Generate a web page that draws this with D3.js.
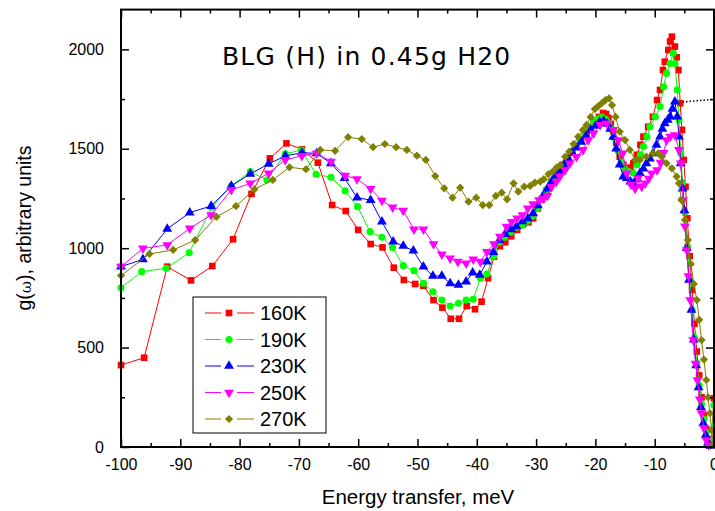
<html>
<head>
<script src="https://d3js.org/d3.v7.min.js"></script>
<style>
body { margin: 0; background: #fff; }
</style>
</head>
<body>
<svg id="main_vis" width="715" height="511" font-family="Liberation Sans, Arial, sans-serif"></svg>
<script>
// series values: [energy meV, g(w)]
var s160 = [[-100,412],[-96.1,449],[-92.2,907],[-88.2,838],[-84.6,910],[-81.1,1045],[-78.0,1273],[-74.9,1452],[-72.1,1527],[-69.5,1497],[-66.8,1430],[-64.4,1217],[-62.1,1187],[-60.0,1092],[-57.9,1021],[-55.9,1004],[-54.0,902],[-52.3,840],[-50.4,820],[-49.0,811],[-47.3,739],[-45.8,701],[-44.4,645],[-43.0,645],[-41.7,709],[-40.3,693],[-39.2,731],[-38.1,849],[-37.1,957],[-36.1,1010],[-35.2,1030],[-34.2,1060],[-33.2,1092],[-32.2,1120],[-31.3,1130],[-30.5,1150],[-29.7,1200],[-29.0,1245],[-28.2,1290],[-27.4,1335],[-26.7,1360],[-26.0,1380],[-25.3,1410],[-24.6,1444],[-23.9,1480],[-23.2,1511],[-22.4,1545],[-21.5,1578],[-20.8,1610],[-20.1,1636],[-19.4,1660],[-18.7,1680],[-18.2,1675],[-17.8,1655],[-17.4,1625],[-17.0,1590],[-16.5,1530],[-15.9,1460],[-15.3,1420],[-14.7,1400],[-14.1,1405],[-13.6,1427],[-13.0,1470],[-12.4,1520],[-11.9,1561],[-11.1,1611],[-10.3,1661],[-9.6,1745],[-9.1,1796],[-8.6,1896],[-8.3,1938],[-7.7,1997],[-7.4,2040],[-7.1,2064],[-6.6,2014],[-6.3,1960],[-6.0,1896],[-5.7,1729],[-5.4,1595],[-5.1,1444],[-4.8,1309],[-4.5,1150],[-4.1,960],[-3.7,790],[-3.3,620],[-2.9,480],[-2.5,360],[-2.1,250],[-1.7,160],[-1.3,90],[-0.9,40],[-0.5,15],[0,245]];
var s190 = [[-100,801],[-96.5,882],[-92.4,899],[-88.5,977],[-84.7,1206],[-81.4,1313],[-78.2,1385],[-75.4,1343],[-72.3,1474],[-69.6,1494],[-67.1,1372],[-64.6,1357],[-62.2,1288],[-60.1,1209],[-58.0,1083],[-56.0,1055],[-54.2,1003],[-52.4,912],[-50.6,887],[-49.0,823],[-47.4,781],[-45.9,739],[-44.5,709],[-43.1,723],[-41.8,739],[-40.6,743],[-39.4,849],[-38.3,870],[-37.2,960],[-36.2,1030],[-35.3,1055],[-34.3,1080],[-33.3,1105],[-32.4,1115],[-31.5,1135],[-30.6,1160],[-29.8,1200],[-29.0,1250],[-28.3,1295],[-27.5,1335],[-26.8,1365],[-26.1,1390],[-25.4,1420],[-24.7,1450],[-24.0,1485],[-23.3,1515],[-22.6,1545],[-21.8,1575],[-21.0,1605],[-20.3,1630],[-19.6,1650],[-18.9,1660],[-18.3,1650],[-17.8,1630],[-17.3,1600],[-16.8,1555],[-16.2,1490],[-15.6,1430],[-15.0,1395],[-14.4,1385],[-13.6,1377],[-13.0,1420],[-12.4,1470],[-11.9,1511],[-11.3,1560],[-10.8,1611],[-9.9,1661],[-9.1,1712],[-8.5,1812],[-8.0,1879],[-7.4,1929],[-6.9,1980],[-6.6,1929],[-6.2,1796],[-5.9,1645],[-5.6,1477],[-5.3,1330],[-4.9,1180],[-4.5,1010],[-4.1,850],[-3.7,690],[-3.3,550],[-2.9,420],[-2.5,310],[-2.1,215],[-1.7,140],[-1.3,75],[-0.9,30],[-0.5,10],[0,210]];
var s230 = [[-100,907],[-96.3,944],[-92.2,1097],[-88.4,1179],[-84.8,1212],[-81.4,1313],[-78.2,1373],[-75.1,1424],[-72.3,1464],[-69.5,1480],[-67.0,1477],[-64.6,1427],[-62.3,1352],[-60.2,1254],[-57.9,1242],[-56.0,1133],[-54.1,1033],[-52.4,1011],[-50.7,987],[-49.0,907],[-47.4,860],[-45.9,860],[-44.5,823],[-43.1,815],[-41.8,832],[-40.7,877],[-39.5,865],[-38.3,932],[-37.2,980],[-36.2,1040],[-35.2,1070],[-34.2,1095],[-33.3,1110],[-32.3,1135],[-31.4,1150],[-30.5,1175],[-29.7,1215],[-28.9,1260],[-28.1,1300],[-27.4,1335],[-26.7,1365],[-26.0,1390],[-25.3,1420],[-24.6,1450],[-23.9,1480],[-23.2,1505],[-22.4,1535],[-21.6,1565],[-20.8,1595],[-20.0,1615],[-19.3,1635],[-18.6,1640],[-18.0,1625],[-17.5,1600],[-17.0,1560],[-16.5,1500],[-15.9,1420],[-15.3,1360],[-14.7,1352],[-14.1,1335],[-13.6,1326],[-13.0,1350],[-12.5,1377],[-11.9,1400],[-11.4,1427],[-10.8,1450],[-10.3,1477],[-9.7,1520],[-9.1,1561],[-8.7,1600],[-8.3,1628],[-7.8,1645],[-7.4,1661],[-7.0,1700],[-6.6,1737],[-6.2,1661],[-5.9,1561],[-5.6,1427],[-5.3,1300],[-5.0,1190],[-4.6,1000],[-4.2,840],[-3.8,690],[-3.4,540],[-3.0,410],[-2.6,300],[-2.2,200],[-1.8,120],[-1.4,60],[-1.0,20],[-0.6,5]];
var s250 = [[-100,907],[-96.3,999],[-92.2,1016],[-88.4,1100],[-84.8,1167],[-81.4,1293],[-78.2,1326],[-75.1,1377],[-72.3,1444],[-69.5,1464],[-67.0,1477],[-64.6,1435],[-62.2,1365],[-60.2,1348],[-57.9,1298],[-56.0,1239],[-54.2,1206],[-52.4,1189],[-50.6,1095],[-49.0,1095],[-47.3,1021],[-45.9,969],[-44.5,949],[-43.2,932],[-41.8,924],[-40.6,944],[-39.4,932],[-38.3,982],[-37.1,1021],[-36.1,1058],[-35.0,1108],[-34.1,1133],[-33.2,1150],[-32.3,1167],[-31.4,1200],[-30.5,1222],[-29.5,1242],[-28.8,1251],[-28.1,1263],[-27.4,1309],[-26.6,1335],[-26.0,1360],[-25.1,1393],[-24.3,1427],[-23.2,1460],[-22.1,1494],[-21.2,1544],[-20.3,1578],[-19.2,1620],[-18.1,1628],[-17.0,1595],[-16.1,1544],[-15.4,1477],[-14.7,1377],[-14.0,1320],[-13.3,1300],[-12.8,1352],[-12.2,1310],[-11.6,1326],[-11.0,1350],[-10.5,1377],[-9.6,1393],[-9.0,1430],[-8.5,1480],[-8.0,1544],[-7.4,1561],[-6.6,1569],[-5.9,1494],[-5.6,1427],[-5.2,1242],[-4.9,1110],[-4.6,991],[-4.3,860],[-4.0,739],[-3.5,538],[-3.1,420],[-2.8,337],[-2.4,240],[-2.1,170],[-1.7,95],[-1.3,35],[-0.9,10]];
var s270 = [[-100,862],[-95.2,971],[-91.2,991],[-87.5,1041],[-83.9,1158],[-80.6,1212],[-77.5,1296],[-74.4,1343],[-71.6,1407],[-68.8,1397],[-66.4,1494],[-63.9,1490],[-61.7,1558],[-59.4,1549],[-57.5,1508],[-55.5,1524],[-53.6,1508],[-51.8,1494],[-50.1,1465],[-48.6,1444],[-47.0,1363],[-45.5,1301],[-44.1,1254],[-42.8,1304],[-41.4,1234],[-40.1,1254],[-39.0,1217],[-37.9,1217],[-36.8,1263],[-35.8,1279],[-34.9,1246],[-33.8,1326],[-33.0,1284],[-32.0,1309],[-31.0,1313],[-30.2,1330],[-29.3,1335],[-28.7,1347],[-27.9,1373],[-27.2,1385],[-26.5,1407],[-25.9,1419],[-25.1,1460],[-24.4,1486],[-23.7,1524],[-22.9,1561],[-22.1,1595],[-21.5,1620],[-20.8,1660],[-20.1,1700],[-19.5,1715],[-18.9,1730],[-18.3,1745],[-17.7,1754],[-17.2,1720],[-16.6,1660],[-15.9,1586],[-15.0,1544],[-14.2,1494],[-13.3,1444],[-12.5,1444],[-11.4,1460],[-10.3,1477],[-9.4,1477],[-8.8,1460],[-8.0,1427],[-7.1,1402],[-6.3,1360],[-5.9,1326],[-5.5,1242],[-4.9,1142],[-4.4,1041],[-3.9,920],[-3.4,820],[-2.9,739],[-2.5,640],[-2.1,538],[-1.7,440],[-1.3,337],[-1.0,250],[-0.7,170],[-0.4,85],[-0.1,10]];

var labels = ["160K", "190K", "230K", "250K", "270K"];
var colors = ["#ff0000", "#00ff00", "#0000ff", "#ff00ff", "#808000"];
var shapes = ["square", "circle", "up", "down", "diamond"];
var allSeries = [s160, s190, s230, s250, s270];

var xTicks = [-100, -90, -80, -70, -60, -50, -40, -30, -20, -10, 0];
var yTicks = [0, 500, 1000, 1500, 2000];

// dotted marker line at the right of the blue peak
var refLine = [[-5.3, 1735], [0.3, 1750]];

var svg = d3.select("#main_vis");

var x = d3.scaleLinear().domain([-100, 0]).range([121, 714]);
var y = d3.scaleLinear().domain([0, 2200]).range([447, 9.6]);

// symbol paths
function markerPath(kind) {
  if (kind == "square") return d3.symbol().type(d3.symbolSquare).size(44)();
  if (kind == "circle") return d3.symbol().type(d3.symbolCircle).size(40)();
  if (kind == "up" || kind == "down") return d3.symbol().type(d3.symbolTriangle).size(42)();
  return d3.symbol().type(d3.symbolSquare).size(34)();
}
function markerRot(kind) {
  if (kind == "down") return 180;
  if (kind == "diamond") return 45;
  return 0;
}

// series
allSeries.forEach(function(data, i) {
  svg.append("path")
    .datum(data)
    .attr("fill", "none")
    .attr("stroke", colors[i])
    .attr("stroke-width", 1)
    .attr("d", d3.line()
      .x(function(d) { return x(d[0]) })
      .y(function(d) { return y(d[1]) }));

  svg.append("g").selectAll("path")
    .data(data)
    .enter().append("path")
    .attr("d", markerPath(shapes[i]))
    .attr("fill", colors[i])
    .attr("transform", function(d) {
      return "translate(" + x(d[0]) + "," + y(d[1]) + ") rotate(" + markerRot(shapes[i]) + ")";
    });
});

// dotted line
svg.append("path")
  .datum(refLine)
  .attr("fill", "none")
  .attr("stroke", "black")
  .attr("stroke-width", 1.5)
  .attr("stroke-dasharray", "1.5,2")
  .attr("d", d3.line().x(function(d) { return x(d[0]) }).y(function(d) { return y(d[1]) }));

// axes, ticks pointing inward
var xMinor = d3.range(-95, 0, 10);
var yMinor = [250, 750, 1250, 1750];
var plain = function(d) { return String(d); };

function styleAxis(g) {
  g.selectAll(".domain").remove();
  g.selectAll("line").attr("stroke", "black").attr("stroke-width", 1.5);
  g.selectAll("text").attr("font-size", "16px").attr("fill", "black")
    .attr("font-family", "Liberation Sans, Arial, sans-serif");
}

svg.append("g").attr("transform", "translate(0,447)")
  .call(d3.axisBottom(x).tickValues(xTicks).tickSize(-8).tickPadding(12).tickFormat(plain))
  .call(styleAxis);
svg.append("g").attr("transform", "translate(0,447)")
  .call(d3.axisBottom(x).tickValues(xMinor).tickSize(-4).tickFormat(""))
  .call(styleAxis);
svg.append("g").attr("transform", "translate(0,9.6)")
  .call(d3.axisTop(x).tickValues(xTicks).tickSize(-8).tickFormat(""))
  .call(styleAxis);
svg.append("g").attr("transform", "translate(0,9.6)")
  .call(d3.axisTop(x).tickValues(xMinor).tickSize(-4).tickFormat(""))
  .call(styleAxis);

svg.append("g").attr("transform", "translate(121,0)")
  .call(d3.axisLeft(y).tickValues(yTicks).tickSize(-8).tickPadding(17).tickFormat(plain))
  .call(styleAxis);
svg.append("g").attr("transform", "translate(121,0)")
  .call(d3.axisLeft(y).tickValues(yMinor).tickSize(-4).tickFormat(""))
  .call(styleAxis);
svg.append("g").attr("transform", "translate(714,0)")
  .call(d3.axisRight(y).tickValues(yTicks).tickSize(-8).tickFormat(""))
  .call(styleAxis);
svg.append("g").attr("transform", "translate(714,0)")
  .call(d3.axisRight(y).tickValues(yMinor).tickSize(-4).tickFormat(""))
  .call(styleAxis);

// frame
svg.append("rect")
  .attr("x", x(-100)).attr("y", y(2200))
  .attr("width", x(0) - x(-100)).attr("height", y(0) - y(2200))
  .attr("fill", "none").attr("stroke", "black").attr("stroke-width", 2);

// title
svg.append("text")
  .attr("x", 222).attr("y", 65)
  .attr("font-size", "25px")
  .attr("letter-spacing", "1.2px")
  .attr("font-family", "DejaVu Sans, sans-serif")
  .text("BLG (H) in 0.45g H20");

// axis titles
svg.append("text")
  .attr("x", 418).attr("y", 504)
  .attr("text-anchor", "middle")
  .attr("font-size", "20.5px")
  .text("Energy transfer, meV");

var yl = svg.append("text")
  .attr("transform", "translate(31,228) rotate(-90)")
  .attr("text-anchor", "middle")
  .attr("font-size", "19.5px");
yl.append("tspan").text("g(");
yl.append("tspan").attr("font-family", "DejaVu Serif, serif").attr("font-size", "15px").text("ω");
yl.append("tspan").text("), arbitrary units");

// legend
var lg = svg.append("g");
lg.append("rect")
  .attr("x", 193).attr("y", 297).attr("width", 133).attr("height", 136)
  .attr("fill", "white").attr("stroke", "black").attr("stroke-width", 1);

labels.forEach(function(lab, i) {
  var ly = 313 + i * 26.5;
  lg.append("line").attr("x1", 205).attr("x2", 221).attr("y1", ly).attr("y2", ly)
    .attr("stroke", colors[i]).attr("stroke-width", 1);
  lg.append("line").attr("x1", 237).attr("x2", 254).attr("y1", ly).attr("y2", ly)
    .attr("stroke", colors[i]).attr("stroke-width", 1);
  lg.append("path").attr("d", markerPath(shapes[i]))
    .attr("fill", colors[i])
    .attr("transform", "translate(229," + ly + ") rotate(" + markerRot(shapes[i]) + ")");
  lg.append("text").attr("x", 260).attr("y", ly + 7)
    .attr("font-size", "20px").text(lab);
});
</script>
</body>
</html>
